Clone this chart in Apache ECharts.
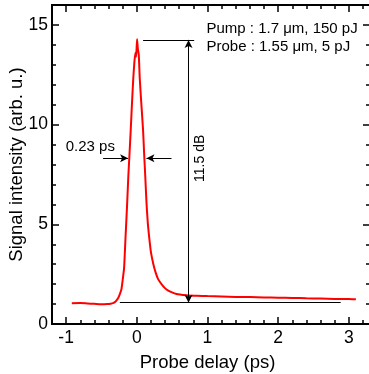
<!DOCTYPE html>
<html><head><meta charset="utf-8">
<script src="https://cdn.jsdelivr.net/npm/echarts@6/dist/echarts.min.js"></script>
<style>html,body{margin:0;padding:0;background:#fff;overflow:hidden}#c{width:369px;height:374px}</style>
</head><body><div id="c"></div>
<script>
// ---- data ----
const delayPs = [-0.92,-0.8,-0.7,-0.6,-0.5,-0.42,-0.37,-0.336,-0.3,-0.265,-0.24,-0.217,-0.2,-0.18,-0.16,-0.137,-0.12,-0.105,-0.085,-0.065,-0.05,-0.035,-0.02,-0.01,0.004,0.015,0.028,0.042,0.065,0.089,0.103,0.12,0.137,0.155,0.174,0.2,0.231,0.265,0.302,0.36,0.42,0.49,0.562,0.65,0.727,0.85,1.0,1.2,1.4,1.6,1.8,2.0,2.2,2.4,2.6,2.8,3.0,3.1];
const signal = [1.04,1.05,1.03,1.01,0.99,1.0,1.02,1.05,1.13,1.29,1.5,1.75,2.2,2.8,4.3,6.0,7.4,8.4,9.8,11.3,12.3,13.1,13.6,13.4,14.28,13.8,13.5,12.3,11.0,9.7,8.6,7.4,6.1,5.1,4.4,3.6,3.05,2.6,2.25,1.95,1.73,1.6,1.5,1.46,1.43,1.42,1.40,1.38,1.36,1.35,1.33,1.32,1.31,1.29,1.28,1.26,1.25,1.24];

const xMajorTicks = [-1, 0, 1, 2, 3];
const yMajorTicks = [0, 5, 10, 15];
const xMinorTicks = [-1.2,-0.8,-0.6,-0.4,-0.2,0.2,0.4,0.6,0.8,1.2,1.4,1.6,1.8,2.2,2.4,2.6,2.8,3.2];
const yMinorTicks = [1,2,3,4,6,7,8,9,11,12,13,14,16];
const xRange = [-1.2, 3.3];
const yRange = [0, 16];

const legendLines = ['Pump : 1.7 \u03bcm, 150 pJ', 'Probe : 1.55 \u03bcm, 5 pJ'];

// annotation values (data coordinates)
const peakLevel = 14.25;
const baseLevel = 1.07;
const peakLineX = [0.089, 0.812];
const baseLineX = [-0.24, 2.885];
const contrastX = 0.732;
const fwhmLevel = 8.31;
const fwhmLeftX = [-0.477, -0.123];
const fwhmRightX = [0.491, 0.137];
const fwhmLabel = '0.23 ps';
const fwhmLabelAt = [-1.006, 8.89];
const contrastLabel = '11.5 dB';
const contrastLabelAt = [0.895, 8.31];

// ---- chart ----
const FONT = '"Liberation Sans", Arial, Helvetica, sans-serif';
const chart = echarts.init(document.getElementById('c'), null, {renderer: 'canvas'});
const lineCol = '#000';

function xAx(pos, ticks, len, labels, withName) {
  const a = {
    type: 'value', gridIndex: 0, position: pos, offset: 0, min: xRange[0], max: xRange[1],
    axisLine: {show: true, onZero: false, lineStyle: {color: lineCol, width: 2}},
    axisTick: {show: true, inside: true, length: len, customValues: ticks, lineStyle: {color: lineCol, width: 1.5}},
    axisLabel: labels ? {show: true, customValues: ticks, fontSize: 17.5, color: '#000', fontFamily: FONT, margin: 5} : {show: false},
    splitLine: {show: false}
  };
  if (withName) {
    a.name = 'Probe delay (ps)';
    a.nameLocation = 'middle';
    a.nameGap = 29;
    a.nameMoveOverlap = false;
    a.nameTextStyle = {fontSize: 18.5, color: '#000', fontFamily: FONT, padding: [0, 7, 0, 0]};
  }
  return a;
}
function yAx(pos, ticks, len, labels, withName) {
  const a = {
    type: 'value', gridIndex: 0, position: pos, offset: 0, min: yRange[0], max: yRange[1],
    axisLine: {show: true, onZero: false, lineStyle: {color: lineCol, width: 2}},
    axisTick: {show: true, inside: true, length: len, customValues: ticks, lineStyle: {color: lineCol, width: 1.5}},
    axisLabel: labels ? {show: true, customValues: ticks, fontSize: 17.5, color: '#000', fontFamily: FONT, margin: 4} : {show: false},
    splitLine: {show: false}
  };
  if (withName) {
    a.name = 'Signal intensity (arb. u.)';
    a.nameLocation = 'middle';
    a.nameGap = 26;
    a.nameMoveOverlap = false;
    a.nameTextStyle = {fontSize: 18.5, color: '#000', fontFamily: FONT};
  }
  return a;
}

const arrowSize = [6, 8];
const option = {
  animation: false,
  backgroundColor: '#fff',
  grid: {left: 52, top: 5, width: 318, height: 319, containLabel: false, outerBoundsMode: 'none'},
  xAxis: [
    xAx('bottom', xMajorTicks, 7, true, true),
    xAx('top', xMajorTicks, 7, false, false),
    xAx('bottom', xMinorTicks, 4, false, false),
    xAx('top', xMinorTicks, 4, false, false)
  ],
  yAxis: [
    yAx('left', yMajorTicks, 7, true, true),
    yAx('right', yMajorTicks, 7, false, false),
    yAx('left', yMinorTicks, 4, false, false),
    yAx('right', yMinorTicks, 4, false, false)
  ],
  series: [{
    type: 'line', xAxisIndex: 0, yAxisIndex: 0,
    data: delayPs.map((x, i) => [x, signal[i]]),
    showSymbol: false, symbol: 'none', smooth: 0.2,
    lineStyle: {color: '#ff0000', width: 2},
    markLine: {
      silent: true, animation: false, precision: 4,
      symbol: ['none', 'none'],
      label: {show: false},
      lineStyle: {color: '#000', width: 1, type: 'solid'},
      emphasis: {disabled: true},
      data: [
        [{coord: [peakLineX[0], peakLevel]}, {coord: [peakLineX[1], peakLevel]}],
        [{coord: [baseLineX[0], baseLevel]}, {coord: [baseLineX[1], baseLevel]}],
        [{coord: [contrastX, baseLevel], symbol: 'arrow', symbolSize: arrowSize},
         {coord: [contrastX, peakLevel], symbol: 'arrow', symbolSize: arrowSize}],
        [{coord: [fwhmLeftX[0], fwhmLevel], symbol: 'none'},
         {coord: [fwhmLeftX[1], fwhmLevel], symbol: 'arrow', symbolSize: arrowSize}],
        [{coord: [fwhmRightX[0], fwhmLevel], symbol: 'none'},
         {coord: [fwhmRightX[1], fwhmLevel], symbol: 'arrow', symbolSize: arrowSize}]
      ]
    }
  }]
};
chart.setOption(option);

const finder = {xAxisIndex: 0, yAxisIndex: 0};
const pF = chart.convertToPixel(finder, fwhmLabelAt);
const pC = chart.convertToPixel(finder, contrastLabelAt);
const txt = (t, x, y, size, align, rot) => ({
  type: 'text', x: x, y: y, rotation: rot || 0, silent: true,
  style: {text: t, fill: '#000', fontSize: size, fontFamily: FONT, align: align, verticalAlign: 'middle'}
});
chart.setOption({
  graphic: [
    txt(legendLines[0], 206.5, 29, 15, 'left'),
    txt(legendLines[1], 206.5, 47, 15, 'left'),
    txt(fwhmLabel, pF[0], pF[1], 15, 'left'),
    txt(contrastLabel, pC[0], pC[1], 14, 'center', Math.PI / 2)
  ]
});
</script></body></html>
